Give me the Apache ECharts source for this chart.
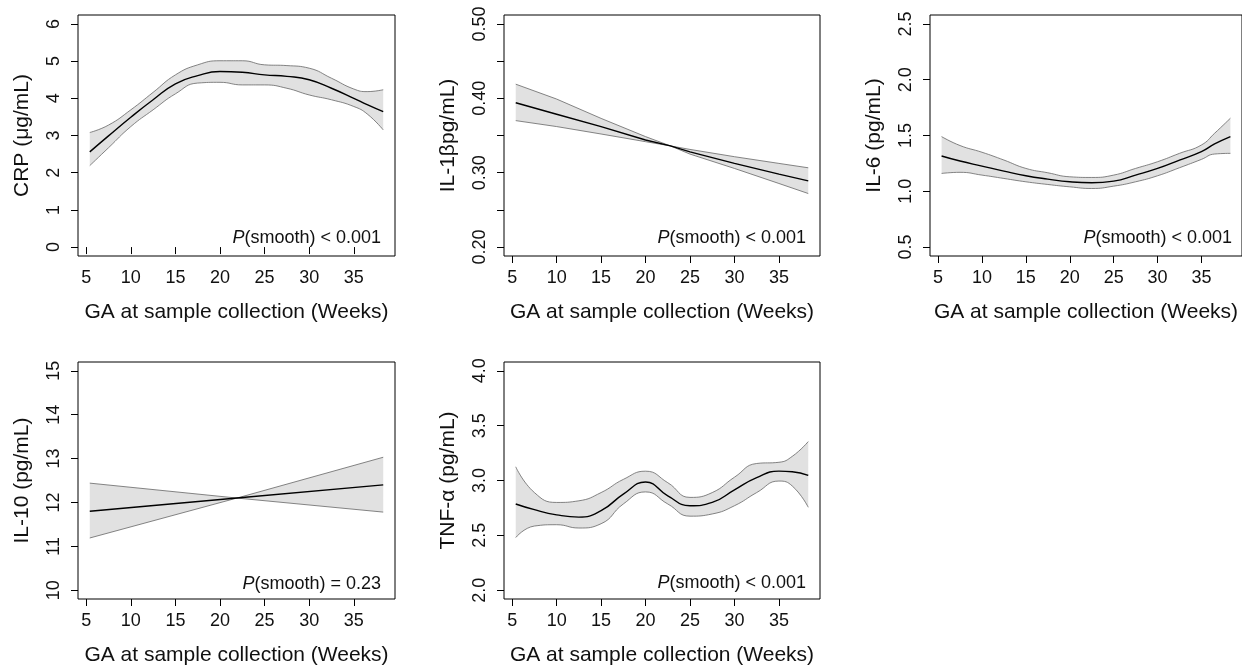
<!DOCTYPE html>
<html>
<head>
<meta charset="utf-8">
<script src="https://cdn.jsdelivr.net/npm/echarts@6/dist/echarts.min.js"></script>
<style>
html,body{margin:0;padding:0;background:#fff;}
#chart{width:1242px;height:667px;}
</style>
</head>
<body>
<div id="chart"></div>
<script>
const weeksA = [5.4, 7.5, 10, 12.5, 15, 17.5, 20, 22.5, 25, 27.5, 30, 32.5, 35, 36.5, 38.3];
const weeksIL1b = [5.4, 10, 15, 20, 22.8, 25, 30, 35, 38.3];
const weeksIL10 = [5.4, 21.9, 38.3];
const xTicks = [5, 10, 15, 20, 25, 30, 35];

// CRP
const crpFit = [2.56, 2.99, 3.49, 3.96, 4.39, 4.61, 4.72, 4.70, 4.63, 4.59, 4.50, 4.27, 4.00, 3.83, 3.64];
const crpUpper = [3.08, 3.28, 3.69, 4.16, 4.63, 4.90, 5.01, 5.01, 4.90, 4.88, 4.81, 4.54, 4.25, 4.18, 4.23];
const crpLower = [2.19, 2.67, 3.24, 3.69, 4.12, 4.41, 4.43, 4.36, 4.36, 4.27, 4.09, 3.96, 3.78, 3.58, 3.15];
const crpTicks = [0, 1, 2, 3, 4, 5, 6];

// IL-1b
const il1bFit = [0.394, 0.3786, 0.362, 0.344, 0.336, 0.328, 0.3125, 0.298, 0.289];
const il1bUpper = [0.419, 0.399, 0.373, 0.3485, 0.336, 0.3313, 0.3215, 0.3125, 0.3066];
const il1bLower = [0.370, 0.362, 0.352, 0.3417, 0.336, 0.325, 0.3057, 0.2855, 0.272];
const il1bTicks = [0.2, 0.25, 0.3, 0.35, 0.4, 0.45, 0.5];
const il1bLabels = [0.2, 0.3, 0.4, 0.5];

// IL-6
const il6Fit = [1.316, 1.271, 1.226, 1.181, 1.139, 1.109, 1.085, 1.076, 1.091, 1.145, 1.205, 1.28, 1.355, 1.424, 1.49];
const il6Upper = [1.49, 1.41, 1.35, 1.28, 1.205, 1.166, 1.13, 1.124, 1.145, 1.205, 1.265, 1.34, 1.415, 1.52, 1.655];
const il6Lower = [1.16, 1.17, 1.145, 1.115, 1.085, 1.061, 1.04, 1.025, 1.046, 1.085, 1.139, 1.211, 1.286, 1.334, 1.34];
const il6Ticks = [0.5, 1.0, 1.5, 2.0, 2.5];

// IL-10
const il10Fit = [11.80, 12.10, 12.40];
const il10Upper = [12.44, 12.10, 13.03];
const il10Lower = [11.19, 12.10, 11.78];
const il10Ticks = [10, 11, 12, 13, 14, 15];

// TNF-a
const tnfFit = [2.786, 2.734, 2.687, 2.666, 2.725, 2.876, 2.986, 2.86, 2.77, 2.80, 2.915, 3.026, 3.085, 3.08, 3.046];
const tnfUpper = [3.125, 2.89, 2.80, 2.815, 2.89, 3.01, 3.085, 2.98, 2.846, 2.89, 3.03, 3.155, 3.166, 3.22, 3.355];
const tnfLower = [2.48, 2.585, 2.597, 2.567, 2.606, 2.786, 2.896, 2.786, 2.675, 2.695, 2.77, 2.89, 2.995, 2.95, 2.756];
const tnfTicks = [2.0, 2.5, 3.0, 3.5, 4.0];

const font = 'Liberation Sans, Arial, Helvetica, sans-serif';

const panels = [
    {name: 'CRP (μg/mL)', x: weeksA, fit: crpFit, up: crpUpper, lo: crpLower, ymin: -0.24, ymax: 6.24, ticks: crpTicks, labels: crpTicks, dec: 0, p: '< 0.001', smooth: 0.5,
     box: {left: 78, top: 15, width: 317, height: 241}},
    {name: 'IL-1βpg/mL)', x: weeksIL1b, fit: il1bFit, up: il1bUpper, lo: il1bLower, ymin: 0.188, ymax: 0.512, ticks: il1bTicks, labels: il1bLabels, dec: 2, p: '< 0.001', smooth: 0,
     box: {left: 504, top: 15, width: 316, height: 241}},
    {name: 'IL-6 (pg/mL)', x: weeksA, fit: il6Fit, up: il6Upper, lo: il6Lower, ymin: 0.42, ymax: 2.58, ticks: il6Ticks, labels: il6Ticks, dec: 1, p: '< 0.001', smooth: 0.5,
     box: {left: 930, top: 15, width: 316, height: 241}},
    {name: 'IL-10 (pg/mL)', x: weeksIL10, fit: il10Fit, up: il10Upper, lo: il10Lower, ymin: 9.8, ymax: 15.2, ticks: il10Ticks, labels: il10Ticks, dec: 0, p: '= 0.23', smooth: 0,
     box: {left: 78, top: 362, width: 317, height: 240}},
    {name: 'TNF-α (pg/mL)', x: weeksA, fit: tnfFit, up: tnfUpper, lo: tnfLower, ymin: 1.92, ymax: 4.08, ticks: tnfTicks, labels: tnfTicks, dec: 1, p: '< 0.001', smooth: 0.5,
     box: {left: 504, top: 362, width: 316, height: 239}}
];

function zip(xs, ys) {
    return xs.map((x, i) => [x, ys[i]]);
}

// same bezier smoothing the line series uses, so the band fill meets its outlines
function smoothPath(pts, smooth, first) {
    let d = (first ? 'M' : 'L') + pts[0][0] + ' ' + pts[0][1];
    if (!smooth) {
        for (let k = 1; k < pts.length; k++) d += 'L' + pts[k][0] + ' ' + pts[k][1];
        return d;
    }
    let cpx0 = pts[0][0], cpy0 = pts[0][1];
    for (let k = 1; k < pts.length; k++) {
        const [px, py] = pts[k - 1];
        const [x, y] = pts[k];
        let cpx1, cpy1, ncx = x, ncy = y;
        if (k === pts.length - 1) {
            cpx1 = x; cpy1 = y;
        } else {
            const [nx, ny] = pts[k + 1];
            let vx = nx - px, vy = ny - py;
            const lp = Math.hypot(x - px, y - py);
            const ln = Math.hypot(nx - x, ny - y);
            const r = ln / (ln + lp);
            ncx = x + vx * smooth * r;
            ncy = y + vy * smooth * r;
            ncx = Math.max(Math.min(ncx, Math.max(nx, x)), Math.min(nx, x));
            ncy = Math.max(Math.min(ncy, Math.max(ny, y)), Math.min(ny, y));
            vx = ncx - x; vy = ncy - y;
            cpx1 = x - vx * lp / ln;
            cpy1 = y - vy * lp / ln;
            cpx1 = Math.max(Math.min(cpx1, Math.max(px, x)), Math.min(px, x));
            cpy1 = Math.max(Math.min(cpy1, Math.max(py, y)), Math.min(py, y));
            vx = x - cpx1; vy = y - cpy1;
            ncx = x + vx * ln / lp;
            ncy = y + vy * ln / lp;
        }
        d += 'C' + cpx0 + ' ' + cpy0 + ' ' + cpx1 + ' ' + cpy1 + ' ' + x + ' ' + y;
        cpx0 = ncx; cpy0 = ncy;
    }
    return d;
}

const grid = [], xAxis = [], yAxis = [], series = [], graphic = [];

panels.forEach((p, i) => {
    grid.push(Object.assign({show: true, borderColor: '#000', borderWidth: 1, backgroundColor: 'transparent'}, p.box));
    xAxis.push({
        gridIndex: i, type: 'value', min: 4.08, max: 39.62,
        axisLine: {show: false},
        axisTick: {show: true, customValues: xTicks, length: 7, lineStyle: {color: '#000', width: 1}},
        axisLabel: {customValues: xTicks, margin: 13, fontSize: 18, color: '#111', fontFamily: font},
        splitLine: {show: false},
        name: 'GA at sample collection (Weeks)', nameLocation: 'middle', nameGap: 46,
        nameTextStyle: {fontSize: 21, color: '#111', fontFamily: font}
    });
    yAxis.push({
        gridIndex: i, type: 'value', min: p.ymin, max: p.ymax,
        axisLine: {show: false},
        axisTick: {show: true, customValues: p.ticks, length: 7, lineStyle: {color: '#000', width: 1}},
        axisLabel: {customValues: p.labels, rotate: 90, margin: 15, fontSize: 18, color: '#111', fontFamily: font,
            formatter: v => Number(v).toFixed(p.dec)},
        splitLine: {show: false},
        name: p.name, nameLocation: 'middle', nameGap: 45,
        nameTextStyle: {fontSize: 21, color: '#111', fontFamily: font}
    });

    // confidence band fill
    series.push({
        type: 'custom', xAxisIndex: i, yAxisIndex: i, silent: true, z: 1,
        data: p.x.map((x, k) => [x, p.lo[k], p.up[k]]),
        encode: {x: 0, y: [1, 2]},
        renderItem: function (params, api) {
            if (params.dataIndex !== 0) return null;
            const upPts = p.x.map((x, k) => api.coord([x, p.up[k]]));
            const loPts = p.x.map((x, k) => api.coord([x, p.lo[k]])).reverse();
            const d = smoothPath(upPts, p.smooth, true) + smoothPath(loPts, p.smooth, false) + 'Z';
            return {type: 'path', shape: {pathData: d}, style: {fill: '#e1e1e1', stroke: null}};
        }
    });
    const common = {type: 'line', xAxisIndex: i, yAxisIndex: i, symbol: 'none', smooth: p.smooth, silent: true};
    series.push(Object.assign({}, common, {data: zip(p.x, p.up), lineStyle: {color: '#666', width: 0.8}}));
    series.push(Object.assign({}, common, {data: zip(p.x, p.lo), lineStyle: {color: '#666', width: 0.8}}));
    series.push(Object.assign({}, common, {data: zip(p.x, p.fit), lineStyle: {color: '#000', width: 1.4}}));

    graphic.push({
        type: 'text',
        z: 10,
        x: p.box.left + p.box.width - 14,
        y: p.box.top + p.box.height - 18,
        style: {
            text: '{i|P}{n|(smooth) ' + p.p + '}',
            align: 'right', verticalAlign: 'middle',
            rich: {
                i: {fontStyle: 'italic', fontSize: 18, fontFamily: font, fill: '#111'},
                n: {fontSize: 18, fontFamily: font, fill: '#111'}
            }
        }
    });
});

const chart = echarts.init(document.getElementById('chart'));
chart.setOption({
    animation: false,
    backgroundColor: '#fff',
    grid: grid,
    xAxis: xAxis,
    yAxis: yAxis,
    series: series,
    graphic: graphic
});
window.addEventListener('resize', function () {
    chart.resize();
});
</script>
</body>
</html>
